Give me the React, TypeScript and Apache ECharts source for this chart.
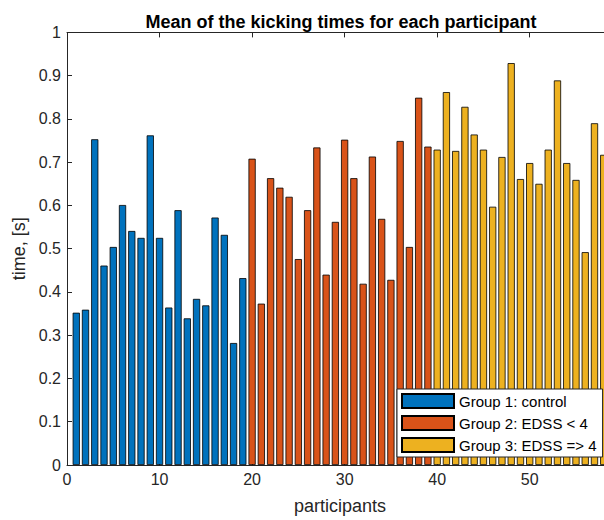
import React, { useEffect, useRef } from "react";
import * as echarts from "echarts";

const titleText = "Mean of the kicking times for each participant";
const xName = "participants";
const yName = "time, [s]";

const seriesNames = ["Group 1: control", "Group 2: EDSS < 4", "Group 3: EDSS => 4"];
const seriesColors = ["#0072BD", "#D95319", "#EDB120"];

const participants1 = [1, 2, 3, 4, 5, 6, 7, 8, 9, 10, 11, 12, 13, 14, 15, 16, 17, 18, 19];
const times1 = [0.352, 0.359, 0.753, 0.461, 0.504, 0.601, 0.541, 0.525, 0.762, 0.525, 0.364, 0.589, 0.339, 0.384, 0.369, 0.572, 0.532, 0.282, 0.432];

const participants2 = [20, 21, 22, 23, 24, 25, 26, 27, 28, 29, 30, 31, 32, 33, 34, 35, 36, 37, 38, 39];
const times2 = [0.708, 0.373, 0.663, 0.641, 0.62, 0.476, 0.589, 0.734, 0.44, 0.562, 0.752, 0.663, 0.419, 0.713, 0.569, 0.428, 0.749, 0.504, 0.849, 0.736];

const participants3 = [40, 41, 42, 43, 44, 45, 46, 47, 48, 49, 50, 51, 52, 53, 54, 55, 56, 57, 58];
const times3 = [0.729, 0.862, 0.726, 0.828, 0.764, 0.729, 0.597, 0.712, 0.929, 0.661, 0.698, 0.65, 0.729, 0.889, 0.698, 0.659, 0.492, 0.79, 0.717];

const xMin = 0;
const xMax = 59;
const xStep = 10;
const yMin = 0;
const yMax = 1;
const yStep = 0.1;

const FONT = '"Liberation Sans", Arial, Helvetica, sans-serif';
const INK = "#262626";

export default function App() {
  const ref = useRef<HTMLDivElement>(null);

  useEffect(() => {
    if (!ref.current) return;
    const chart = echarts.init(ref.current, undefined, { renderer: "svg" });

    const groups = [
      { x: participants1, y: times1 },
      { x: participants2, y: times2 },
      { x: participants3, y: times3 },
    ];

    const axisCommon = {
      axisLine: { show: true, onZero: false, lineStyle: { color: INK, width: 1 } },
      axisTick: { show: true, inside: true, length: 5, lineStyle: { color: INK, width: 1 } },
      splitLine: { show: false },
    };

    chart.setOption({
      animation: false,
      backgroundColor: "#ffffff",
      title: {
        text: titleText,
        left: "center",
        top: 8,
        textStyle: { fontFamily: FONT, fontWeight: "bold", fontSize: 18, color: "#000" },
      },
      legend: {
        data: seriesNames,
        orient: "vertical",
        left: 397,
        top: 389,
        padding: [4, 6, 4, 4],
        itemWidth: 52,
        itemHeight: 14,
        itemGap: 6,
        backgroundColor: "#ffffff",
        borderColor: INK,
        borderWidth: 1,
        borderRadius: 0,
        icon: "rect",
        textStyle: { fontFamily: FONT, fontSize: 15, color: "#000" },
      },
      grid: { left: 67, right: 69, top: 32.4, bottom: 54.3, containLabel: false },
      xAxis: [
        {
          type: "value",
          min: xMin,
          max: xMax,
          interval: xStep,
          position: "bottom",
          name: xName,
          nameLocation: "middle",
          nameGap: 32,
          nameTextStyle: { fontFamily: FONT, fontSize: 18, color: INK },
          axisLabel: {
            margin: 6,
            fontFamily: FONT,
            fontSize: 16,
            color: INK,
            formatter: (v: number) => (v % xStep === 0 ? String(v) : ""),
          },
          ...axisCommon,
        },
        {
          type: "value",
          min: xMin,
          max: xMax,
          interval: xStep,
          position: "top",
          axisLabel: { show: false },
          ...axisCommon,
        },
      ],
      yAxis: [
        {
          type: "value",
          min: yMin,
          max: yMax,
          interval: yStep,
          position: "left",
          name: yName,
          nameLocation: "middle",
          nameGap: 37,
          nameRotate: 90,
          nameTextStyle: { fontFamily: FONT, fontSize: 18, color: INK },
          axisLabel: {
            margin: 6,
            fontFamily: FONT,
            fontSize: 16,
            color: INK,
            formatter: (v: number) => String(Math.round(v * 10) / 10),
          },
          ...axisCommon,
        },
        {
          type: "value",
          min: yMin,
          max: yMax,
          interval: yStep,
          position: "right",
          axisLabel: { show: false },
          ...axisCommon,
        },
      ],
      series: groups.map((g, i) => ({
        type: "bar",
        name: seriesNames[i],
        xAxisIndex: 0,
        yAxisIndex: 0,
        barWidth: 7.2,
        barGap: "-100%",
        data: g.x.map((xv, j) => [xv, g.y[j]]),
        itemStyle: { color: seriesColors[i], borderColor: "#000", borderWidth: 0.8 },
      })),
    });

    return () => chart.dispose();
  }, []);

  return (
    <div
      style={{
        position: "fixed",
        left: 0,
        top: 0,
        width: 604,
        height: 520,
        overflow: "hidden",
        background: "#fff",
      }}
    >
      <div ref={ref} style={{ width: 682, height: 520 }} />
    </div>
  );
}
